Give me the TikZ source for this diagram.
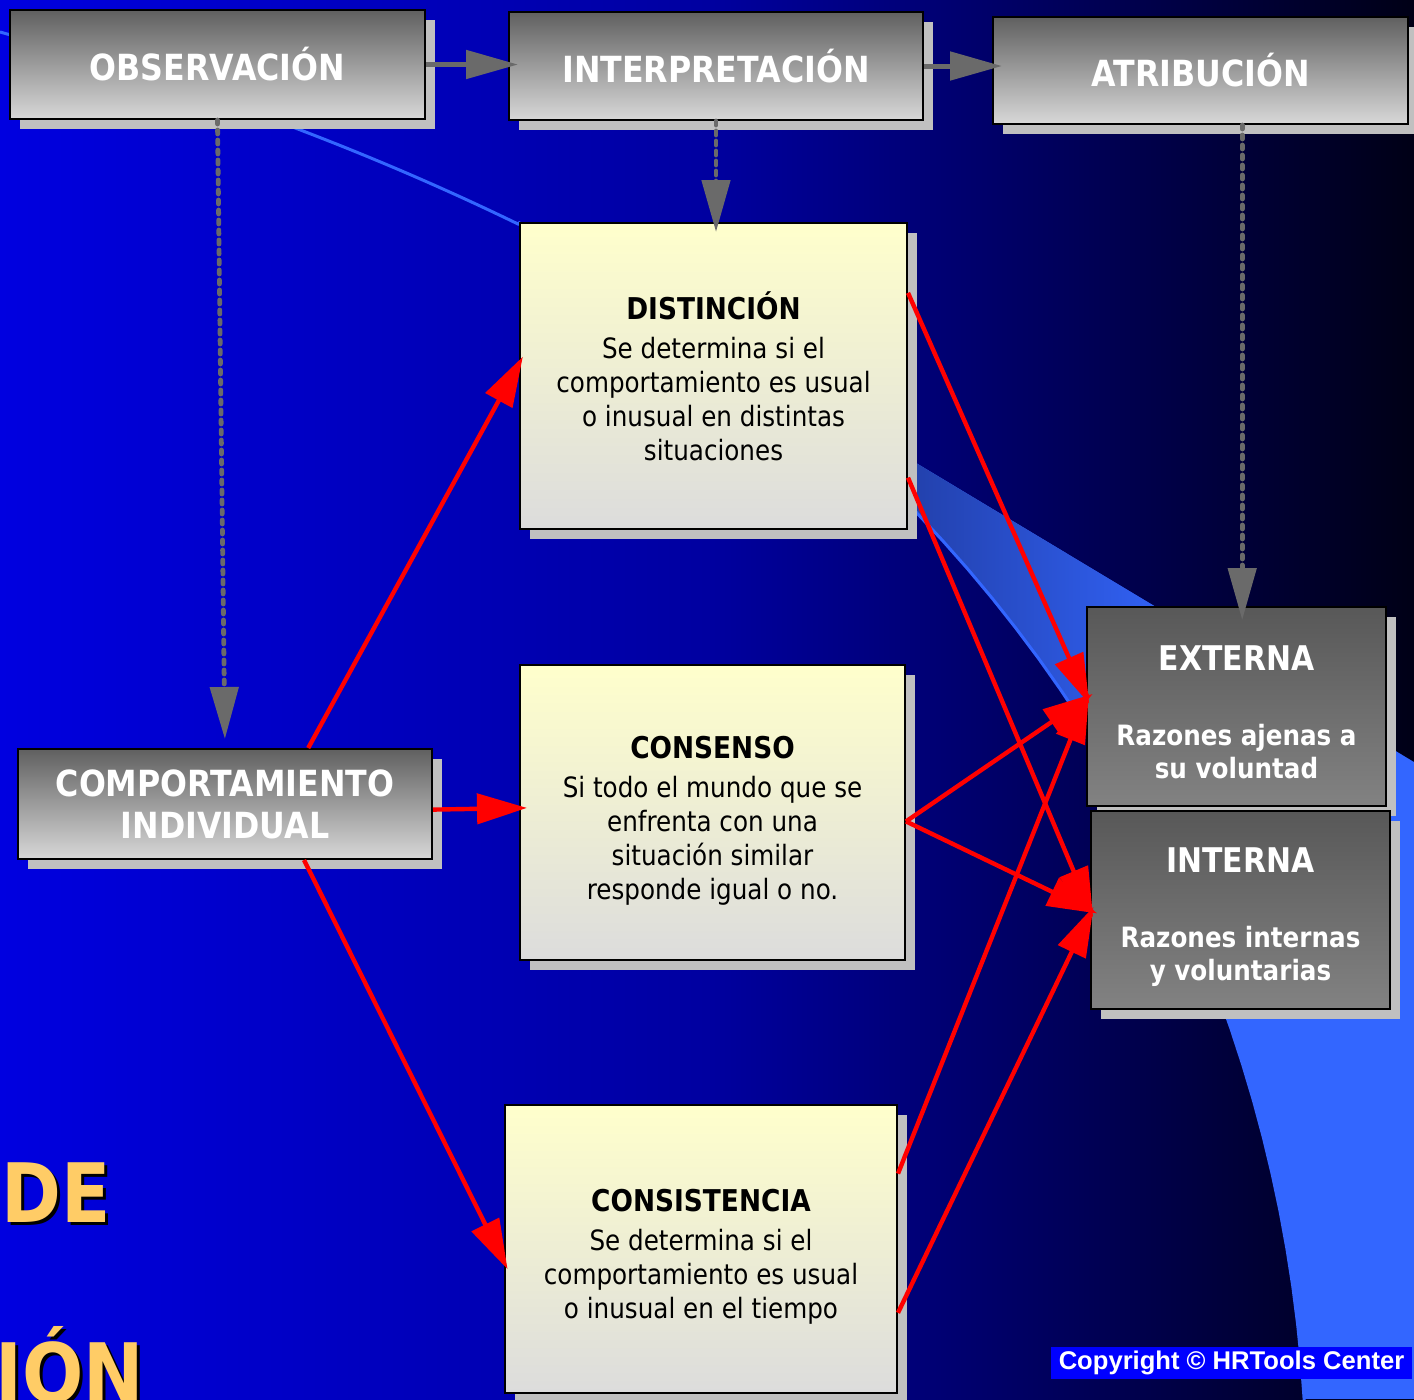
\documentclass[tikz,border=0pt]{standalone}
\usepackage{fontspec}
\setmainfont{DejaVu Sans}[FakeStretch=0.88]
\newfontfamily\copyfont{Liberation Sans}
\usetikzlibrary{arrows.meta}
\usetikzlibrary{calc}
\usetikzlibrary{shadows}

\definecolor{bgleft}{RGB}{0,0,224}
\definecolor{bgmid}{RGB}{0,0,160}
\definecolor{bgright}{RGB}{0,0,22}
\definecolor{bandblue}{RGB}{51,102,255}
\definecolor{banddark}{RGB}{12,14,60}
\definecolor{boxshadow}{RGB}{192,192,192}
\definecolor{arrowgray}{RGB}{106,106,106}
\definecolor{stagetop}{RGB}{96,96,96}
\definecolor{stagebottom}{RGB}{216,216,216}
\definecolor{notetop}{RGB}{255,255,204}
\definecolor{notebottom}{RGB}{220,220,220}
\definecolor{causetop}{RGB}{88,88,88}
\definecolor{causebottom}{RGB}{130,130,130}
\definecolor{titlegold}{RGB}{255,204,102}
\definecolor{copyblue}{RGB}{0,0,255}

\newcommand{\notetitle}[2][0pt]{{\rule{0pt}{#1}\fontsize{15}{17}\selectfont\bfseries #2}}
\newcommand{\causetitle}[2][0pt]{{\rule{0pt}{#1}\fontsize{17}{17}\selectfont #2}}

\tikzset{
  basebox/.style={draw=black, line width=1pt, align=center, inner sep=0pt,
    drop shadow={shadow xshift=5pt, shadow yshift=-5pt, fill=boxshadow, opacity=1}},
  stagebox/.style={basebox, top color=stagetop, bottom color=stagebottom, text=white,
    font=\fontsize{18}{21}\selectfont\bfseries},
  notebox/.style={basebox, top color=notetop, bottom color=notebottom, text=black,
    font=\fontsize{14}{17}\selectfont},
  causebox/.style={basebox, top color=causetop, bottom color=causebottom, text=white,
    font=\fontsize{14}{16.5}\selectfont\bfseries},
  redarrow/.style={draw=red, line width=2.2pt, shorten >=-4pt,
    -{Triangle[length=25pt, width=15pt]}},
  grayarrow/.style={draw=arrowgray, line width=2.5pt,
    -{Triangle[length=26pt, width=14pt]}},
  dotarrow/.style={grayarrow, line width=2.4pt, dash pattern=on 2pt off 3pt, line cap=round},
  bigword/.style={anchor=base west, inner sep=0pt, font=\fontsize{41}{42}\selectfont\bfseries}
}

\begin{document}
\begin{tikzpicture}[x=0.5pt, y=-0.5pt]
        \useasboundingbox (0, 0) rectangle (1414, 1399);
        \clip (0, 0) rectangle (1414, 1399);
        \shade [left color=bgleft, right color=bgright, middle color=bgmid] (0, 0) rectangle (1414, 1399);
        \begin{scope}
          \clip (518, 224) -- (1414, 762) -- (1414, 1399) -- (1300, 1399)
            -- plot [domain=3.4:64, samples=40] ({-95.3+1402*cos(\x)}, {1483-1402*sin(\x)}) -- cycle;
          \fill [bandblue] (518, 224) rectangle (1414, 1399);
          \shade [left color=banddark, right color=bandblue] (518, 224) rectangle (1200, 1399);
        \end{scope}
        \draw [bandblue, line width=1.5pt] (0, 32) .. controls (173, 80) and (345, 140) .. (518, 224)
          -- plot [domain=64:3.4, samples=40] ({-95.3+1402*cos(\x)}, {1483-1402*sin(\x)});

        \node [stagebox, minimum width=207.5pt, minimum height=54.5pt] (obs) at (217.5, 64.5) {OBSERVACIÓN};
        \node [stagebox, minimum width=207pt, minimum height=54pt] (interp) at (716, 66) {INTERPRETACIÓN};
        \node [stagebox, minimum width=207.5pt, minimum height=53.5pt] (attr) at (1200.5, 70.5) {ATRIBUCIÓN};
        \node [stagebox, minimum width=207pt, minimum height=55pt] (comp) at (225, 804) {COMPORTAMIENTO\\INDIVIDUAL};
        \node [notebox, minimum width=193.5pt, minimum height=153pt] (dist) at (713.5, 376)
          {\notetitle{DISTINCIÓN}\\[2.5pt]Se determina si el\\comportamiento es usual\\o inusual en distintas\\situaciones};
        \node [notebox, minimum width=192.5pt, minimum height=147.5pt] (cons) at (712.5, 812.5)
          {\notetitle[19pt]{CONSENSO}\\[2.5pt]Si todo el mundo que se\\enfrenta con una\\situación similar\\responde igual o no.};
        \node [notebox, minimum width=196pt, minimum height=144pt] (consist) at (701, 1249)
          {\notetitle[19pt]{CONSISTENCIA}\\[2.5pt]Se determina si el\\comportamiento es usual\\o inusual en el tiempo};
        \node [causebox, minimum width=149.5pt, minimum height=99.5pt] (extern) at (1236.5, 706.5)
          {\causetitle[18.5pt]{EXTERNA}\\[21pt]Razones ajenas a\\su voluntad};
        \node [causebox, minimum width=149.5pt, minimum height=99pt] (intern) at (1240.5, 910)
          {\causetitle[20pt]{INTERNA}\\[21pt]Razones internas\\y voluntarias};

        \node [bigword, text=black] (deshadow) at (4, 1225) {DE};
        \node [bigword, text=titlegold] (de) at (1, 1222) {DE};
        \node [bigword, text=black] (ionshadow) at (-2, 1405) {IÓN};
        \node [bigword, text=titlegold] (ion) at (-5, 1402) {IÓN};
        \node [fill=copyblue, text=white, inner sep=0pt, minimum width=180.5pt, minimum height=16pt,
          font=\copyfont\bfseries\fontsize{12.8}{14}\selectfont] (copy) at (1231.5, 1363) {Copyright © HRTools Center};

        \draw [grayarrow, shorten >=-5pt] (obs.east) -- (obs.east -| interp.west);
        \draw [grayarrow, shorten >=-5pt] (interp.east) -- (interp.east -| attr.west);
        \draw [dotarrow, shorten >=4.5pt] (obs.south) -- (comp.north);
        \draw [dotarrow, shorten >=-5pt] (interp.south) -- (interp.south |- dist.north);
        \coordinate (attrfoot) at ($(attr.south west)!0.6!(attr.south east)$);
        \draw [dotarrow, shorten >=-7pt] (attrfoot) -- (attrfoot |- extern.north);

        \draw [redarrow] ($(comp.north west)!0.70!(comp.north east)$) -- ($(dist.north west)!0.46!(dist.south west)$);
        \draw [redarrow] ($(comp.north east)!0.55!(comp.south east)$) -- ($(cons.north west)!0.485!(cons.south west)$);
        \draw [redarrow] ($(comp.south west)!0.69!(comp.south east)$) -- ($(consist.north west)!0.545!(consist.south west)$);
        \draw [redarrow] ($(dist.north east)!0.23!(dist.south east)$) -- ($(extern.north west)!0.45!(extern.south west)$);
        \draw [redarrow] ($(dist.north east)!0.83!(dist.south east)$) -- ($(intern.north west)!0.5!(intern.south west)$);
        \draw [redarrow] ($(cons.north east)!0.53!(cons.south east)$) -- ($(extern.north west)!0.46!(extern.south west)$);
        \draw [redarrow] ($(cons.north east)!0.53!(cons.south east)$) -- ($(intern.north west)!0.5!(intern.south west)$);
        \draw [redarrow] ($(consist.north east)!0.24!(consist.south east)$) -- ($(extern.north west)!0.47!(extern.south west)$);
        \draw [redarrow] ($(consist.north east)!0.72!(consist.south east)$) -- ($(intern.north west)!0.52!(intern.south west)$);
      \end{tikzpicture}
\end{document}
